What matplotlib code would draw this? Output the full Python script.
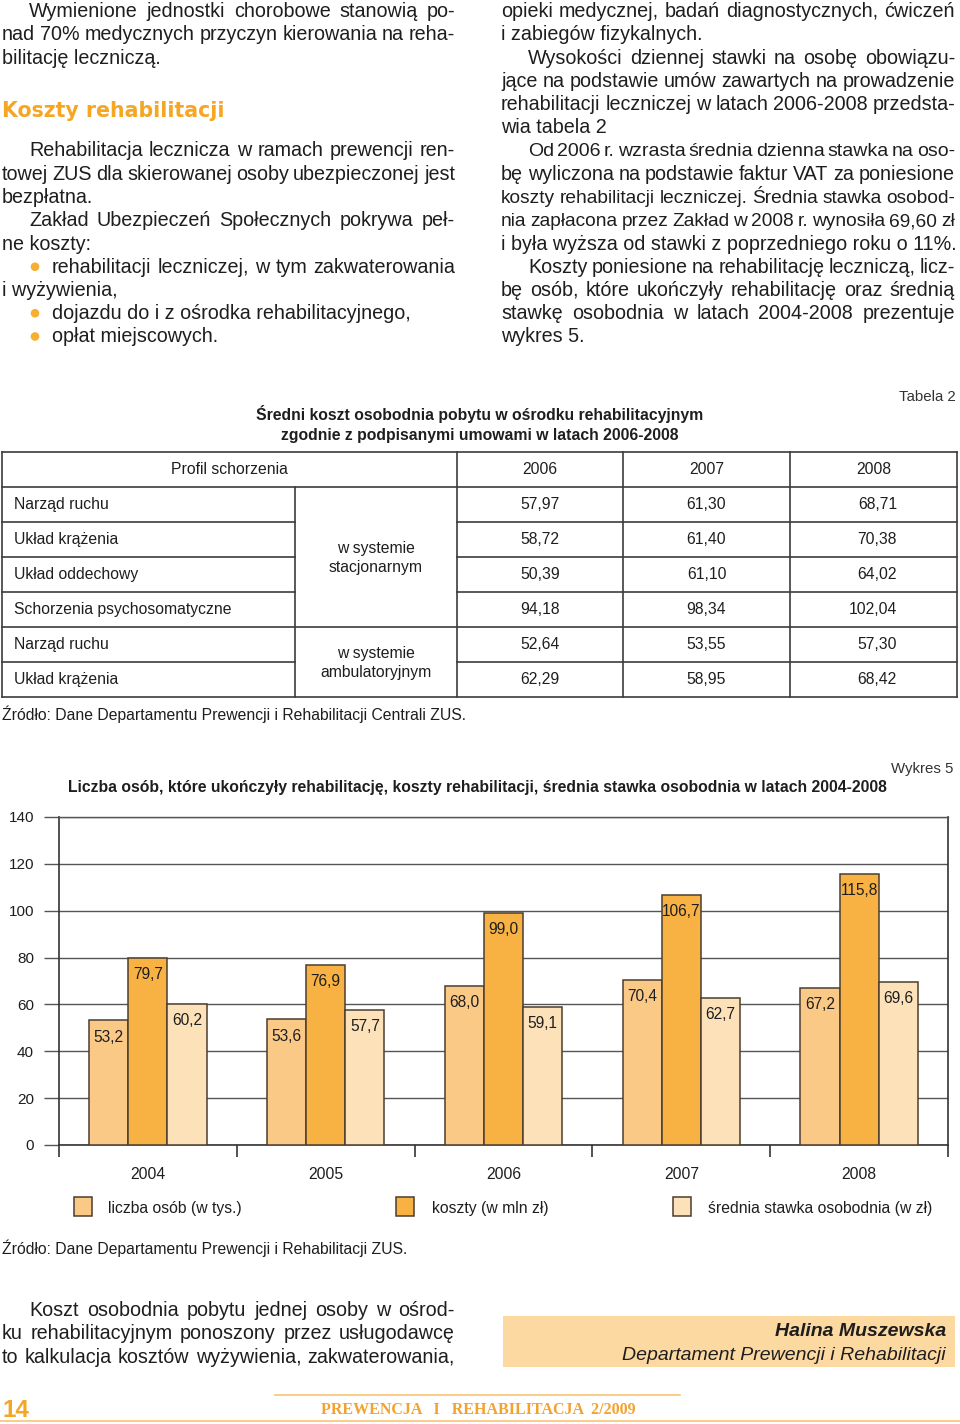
import numpy as np
import matplotlib
matplotlib.use('Agg')
import matplotlib.pyplot as plt
from matplotlib import font_manager as fm
from matplotlib.patches import Rectangle, Circle

# Wykres 5 data
years = ['2004', '2005', '2006', '2007', '2008']
persons = [53.2, 53.6, 68.0, 70.4, 67.2]        # liczba osób (w tys.)
costs = [79.7, 76.9, 99.0, 106.7, 115.8]        # koszty (w mln zł)
daily_rate = [60.2, 57.7, 59.1, 62.7, 69.6]     # średnia stawka osobodnia (w zł)
series_names = ['liczba osób (w tys.)', 'koszty (w mln zł)',
                'średnia stawka osobodnia (w zł)']
yticks = [0, 20, 40, 60, 80, 100, 120, 140]

# Tabela 2 data
profiles = ['Narząd ruchu', 'Układ krążenia', 'Układ oddechowy',
            'Schorzenia psychosomatyczne', 'Narząd ruchu', 'Układ krążenia']
systems = ['w systemie\nstacjonarnym', 'w systemie\nambulatoryjnym']
system_rows = [(0, 4), (4, 6)]
table_years = ['2006', '2007', '2008']
rate_2006 = [57.97, 58.72, 50.39, 94.18, 52.64, 62.29]
rate_2007 = [61.30, 61.40, 61.10, 98.34, 53.55, 58.95]
rate_2008 = [68.71, 70.38, 64.02, 102.04, 57.30, 68.42]

# page text: (line no, indent, justified, text)
left_col = [
    (0, True, True, 'Wymienione jednostki chorobowe stanowią po-'),
    (1, False, True, 'nad 70% medycznych przyczyn kierowania na reha-'),
    (2, False, False, 'bilitację leczniczą.'),
    (6, True, True, 'Rehabilitacja lecznicza w ramach prewencji ren-'),
    (7, False, True, 'towej ZUS dla skierowanej osoby ubezpieczonej jest'),
    (8, False, False, 'bezpłatna.'),
    (9, True, True, 'Zakład Ubezpieczeń Społecznych pokrywa peł-'),
    (10, False, False, 'ne koszty:'),
    (11, 'b', True, 'rehabilitacji leczniczej, w tym zakwaterowania'),
    (12, False, False, 'i wyżywienia,'),
    (13, 'b', False, 'dojazdu do i z ośrodka rehabilitacyjnego,'),
    (14, 'b', False, 'opłat miejscowych.'),
]
right_col = [
    (0, False, True, 'opieki medycznej, badań diagnostycznych, ćwiczeń'),
    (1, False, False, 'i zabiegów fizykalnych.'),
    (2, True, True, 'Wysokości dziennej stawki na osobę obowiązu-'),
    (3, False, True, 'jące na podstawie umów zawartych na prowadzenie'),
    (4, False, True, 'rehabilitacji leczniczej w latach 2006-2008 przedsta-'),
    (5, False, False, 'wia tabela 2'),
    (6, True, True, 'Od 2006 r. wzrasta średnia dzienna stawka na oso-'),
    (7, False, True, 'bę wyliczona na podstawie faktur VAT za poniesione'),
    (8, False, True, 'koszty rehabilitacji leczniczej. Średnia stawka osobod-'),
    (9, False, True, 'nia zapłacona przez Zakład w 2008 r. wynosiła 69,60 zł'),
    (10, False, False, 'i była wyższa od stawki z poprzedniego roku o 11%.'),
    (11, True, True, 'Koszty poniesione na rehabilitację leczniczą, licz-'),
    (12, False, True, 'bę osób, które ukończyły rehabilitację oraz średnią'),
    (13, False, True, 'stawkę osobodnia w latach 2004-2008 prezentuje'),
    (14, False, False, 'wykres 5.'),
]
bottom_col = [
    (0, True, True, 'Koszt osobodnia pobytu jednej osoby w ośrod-'),
    (1, False, True, 'ku rehabilitacyjnym ponoszony przez usługodawcę'),
    (2, False, True, 'to kalkulacja kosztów wyżywienia, zakwaterowania,'),
]


def has_font(name):
    try:
        fm.findfont(fm.FontProperties(family=name), fallback_to_default=False)
        return True
    except ValueError:
        return False


SANS = 'Liberation Sans'
NARROW = 'Liberation Sans Narrow' if has_font('Liberation Sans Narrow') else SANS
INK = '#1e1e1e'
ORANGE = '#F5A623'
c_persons, c_costs, c_rate = '#FBC986', '#F8B244', '#FDE2B9'
EDGE = '#4a3d30'
FS = 11.3    # table / chart text size
BODY = 14.2  # running text size

W, H = 960, 1424
fig = plt.figure(figsize=(9.6, 14.24), dpi=100)
renderer = fig.canvas.get_renderer()

# page axes in pixel coordinates
bg = fig.add_axes([0, 0, 1, 1])
bg.set_xlim(0, W)
bg.set_ylim(H, 0)
bg.axis('off')


def word_widths(words, size, family):
    out = []
    for w in words:
        t = bg.text(0, 0, w, size=size, family=family)
        out.append(t.get_window_extent(renderer).width)
        t.remove()
    return out


def draw_column(lines, x0, x1, base, step, size, family=SANS, indent=27):
    for k, ind, just, s in lines:
        y = base + step * k
        start = x0 + 50 if ind == 'b' else x0 + (indent if ind else 0)
        if ind == 'b':
            bg.add_patch(Circle((x0 + 33, y - 6), 4.3, color='#F8AE30', lw=0))
        words = s.split()
        if not just or len(words) < 2:
            bg.text(start, y, s, size=size, family=family, color=INK, va='baseline')
            continue
        # shrink this line only if it can't fit with a minimal space
        fs = size
        ws = word_widths(words, fs, family)
        while sum(ws) + 2.8 * (len(words) - 1) > x1 - start and fs > 9:
            fs -= 0.2
            ws = word_widths(words, fs, family)
        gap = (x1 - start - sum(ws)) / (len(words) - 1)
        x = start
        for w, wd in zip(words, ws):
            bg.text(x, y, w, size=fs, family=family, color=INK, va='baseline')
            x += wd + gap


draw_column(left_col, 2, 455, 17, 23.25, BODY)
draw_column(right_col, 501, 955, 17, 23.25, BODY)

bg.text(2, 117, 'Koszty rehabilitacji', size=14.8, family='DejaVu Sans',
        weight='bold', color=ORANGE, va='baseline')

# ---------------- Tabela 2 ----------------
bg.text(956, 401, 'Tabela 2', size=10.8, family=NARROW, color='#333333',
        ha='right', va='baseline')
bg.text(480, 420, 'Średni koszt osobodnia pobytu w ośrodku rehabilitacyjnym',
        size=FS, family=SANS, weight='bold', color=INK, ha='center', va='baseline')
bg.text(480, 440, 'zgodnie z podpisanymi umowami w latach 2006-2008',
        size=FS, family=SANS, weight='bold', color=INK, ha='center', va='baseline')

tx = [2, 295, 457, 623, 790, 957]
ty = [452 + 35 * i for i in range(8)]
lc, lw = '#3c3c3c', 1.2
for i, y in enumerate(ty):
    if i in (0, 1, 5, 7):
        bg.plot([tx[0], tx[-1]], [y, y], color=lc, lw=lw)
    else:
        bg.plot([tx[0], tx[1]], [y, y], color=lc, lw=lw)
        bg.plot([tx[2], tx[-1]], [y, y], color=lc, lw=lw)
for j, x in enumerate(tx):
    top = ty[1] if j == 1 else ty[0]
    bg.plot([x, x], [top, ty[-1]], color=lc, lw=lw)

tkw = dict(size=FS, family=SANS, color=INK, va='center')
hy = (ty[0] + ty[1]) / 2
bg.text((tx[0] + tx[2]) / 2, hy, 'Profil schorzenia', ha='center', **tkw)
for j, yr in enumerate(table_years):
    bg.text((tx[j + 2] + tx[j + 3]) / 2, hy, yr, ha='center', **tkw)
for i, p in enumerate(profiles):
    yc = (ty[i + 1] + ty[i + 2]) / 2
    bg.text(14, yc, p, ha='left', **tkw)
    bg.text(540, yc, f'{rate_2006[i]:.2f}'.replace('.', ','), ha='center', **tkw)
    bg.text(706.5, yc, f'{rate_2007[i]:.2f}'.replace('.', ','), ha='center', **tkw)
    bg.text(897, yc, f'{rate_2008[i]:.2f}'.replace('.', ','), ha='right', **tkw)
for s, (r0, r1) in zip(systems, system_rows):
    yc = (ty[r0 + 1] + ty[r1 + 1]) / 2 + 1
    bg.text(376, yc, s, ha='center', linespacing=1.3, **tkw)

bg.text(2, 720, 'Źródło: Dane Departamentu Prewencji i Rehabilitacji Centrali ZUS.',
        size=FS, family=SANS, color=INK, va='baseline')

# ---------------- Wykres 5 ----------------
bg.text(953, 773, 'Wykres 5', size=10.8, family=NARROW, color='#333333',
        ha='right', va='baseline')
bg.text(477, 792, 'Liczba osób, które ukończyły rehabilitację, koszty rehabilitacji, '
        'średnia stawka osobodnia w latach 2004-2008',
        size=FS, family=SANS, weight='bold', color=INK, ha='center', va='baseline')

ax = fig.add_axes([59 / W, 1 - 1145 / H, (948 - 59) / W, (1145 - 817) / H])
x = np.arange(len(years))
bw = 0.22
for off, vals, col in [(-bw, persons, c_persons), (0, costs, c_costs), (bw, daily_rate, c_rate)]:
    bars = ax.bar(x + off, vals, bw, color=col, edgecolor=EDGE, linewidth=1.1, zorder=3)
    for b, v in zip(bars, vals):
        ax.annotate(f'{v:.1f}'.replace('.', ','), (b.get_x() + b.get_width() / 2, v),
                    xytext=(0, -12), textcoords='offset points', ha='center',
                    va='center', size=11.2, family=SANS, color=INK, zorder=4)

ax.set_xlim(-0.5, len(years) - 0.5)
ax.set_ylim(0, 140)
ax.set_yticks(yticks)
ax.set_yticklabels([str(t) for t in yticks], family=SANS, size=11, color=INK)
ax.tick_params(axis='y', length=11, width=1.0, color='#555555', pad=7)
ax.grid(axis='y', color='#555555', lw=1.0)
ax.set_axisbelow(True)
ax.set_xticks(x)
ax.set_xticklabels(years, family=SANS, size=FS, color=INK)
ax.tick_params(axis='x', which='major', length=0, pad=15.5)
ax.set_xticks(np.arange(-0.5, len(years)), minor=True)
ax.tick_params(axis='x', which='minor', length=8.6, width=1.2, color='#333333')
for sp in ax.spines.values():
    sp.set_color('#333333')
    sp.set_linewidth(1.2)
ax.spines['top'].set_color('#555555')
ax.spines['top'].set_linewidth(1.0)

for bx, lx, col, name in zip([74, 396, 673], [108, 432, 708],
                             [c_persons, c_costs, c_rate], series_names):
    bg.add_patch(Rectangle((bx, 1197), 18, 19, facecolor=col, edgecolor=EDGE, lw=1.1))
    bg.text(lx, 1213, name, size=FS, family=SANS, color=INK, va='baseline')

bg.text(2, 1254, 'Źródło: Dane Departamentu Prewencji i Rehabilitacji ZUS.',
        size=FS, family=SANS, color=INK, va='baseline')

# ---------------- bottom of page ----------------
draw_column(bottom_col, 2, 455, 1316, 23.3, BODY)

bg.add_patch(Rectangle((503, 1316), 452, 51, facecolor='#FDD9A2', lw=0))
bg.text(946, 1336, 'Halina Muszewska', size=14, family=NARROW, weight='bold',
        style='italic', color=INK, ha='right', va='baseline')
bg.text(946, 1360, 'Departament Prewencji i Rehabilitacji', size=14, family=NARROW,
        style='italic', color=INK, ha='right', va='baseline')

bg.plot([275, 680], [1395, 1395], color='#F8C373', lw=1.2)
bg.plot([0, 960], [1421, 1421], color='#F8C373', lw=1.2)
bg.text(2, 1417, '14', size=17.5, family=NARROW, weight='bold', color=ORANGE,
        va='baseline')
bg.text(478, 1414, 'PREWENCJA   I   REHABILITACJA  2/2009', size=11.5,
        family='Liberation Serif', weight='bold', color='#F4A22D', ha='center',
        va='baseline')

fig.savefig('out.png', dpi=100)
